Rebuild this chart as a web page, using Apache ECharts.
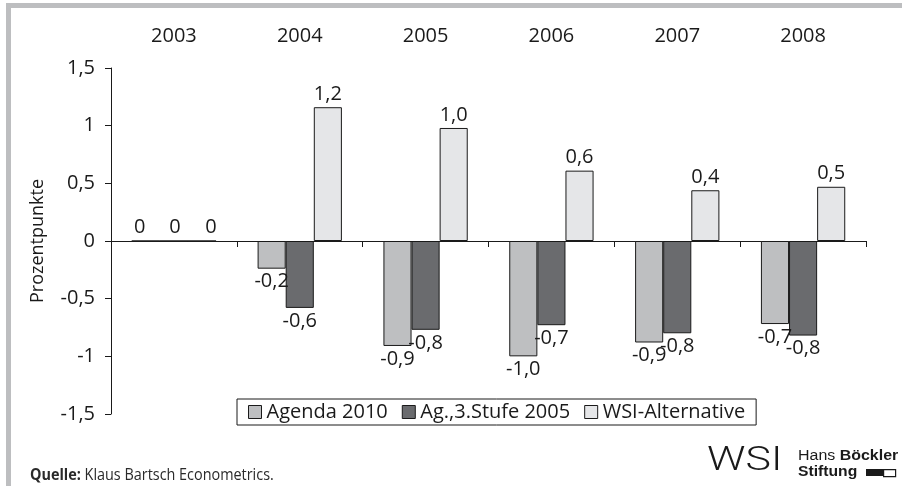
<!DOCTYPE html>
<html>
<head>
<meta charset="utf-8">
<script src="https://cdn.jsdelivr.net/npm/echarts@6/dist/echarts.min.js"></script>
<style>html,body{margin:0;padding:0;background:#fff}#c{width:902px;height:486px}</style>
</head>
<body>
<div id="c"></div>
<script>
var years = ['2003', '2004', '2005', '2006', '2007', '2008'];
var agenda2010 = [0, -0.24, -0.91, -1.0, -0.88, -0.72];
var agStufe2005 = [0, -0.58, -0.77, -0.73, -0.80, -0.82];
var wsiAlternative = [0, 1.16, 0.98, 0.61, 0.44, 0.47];
var yTicks = [-1.5, -1, -0.5, 0, 0.5, 1, 1.5];
var seriesNames = ['Agenda 2010', 'Ag.,3.Stufe 2005', 'WSI-Alternative'];

var FONT = "'Open Sans', sans-serif";
var INK = '#1a1a1a';

function fmtVal(v) {
  return v === 0 ? '0' : v.toFixed(1).replace('.', ',');
}
// zero-value labels are spread a little wider than the bars, as in the source
function items(arr, zeroShift) {
  return arr.map(function (v) {
    var lab = { position: v < 0 ? 'bottom' : 'top' };
    if (v === 0) lab.offset = [zeroShift, 0];
    return { value: v, label: lab };
  });
}
function barSeries(name, arr, color, zeroShift) {
  return {
    name: name,
    type: 'bar',
    xAxisIndex: 0,
    data: items(arr, zeroShift),
    barGap: '0%',
    barCategoryGap: '33%',
    itemStyle: { color: color, borderColor: INK, borderWidth: 1 },
    label: {
      show: true,
      distance: 3,
      fontFamily: FONT,
      fontSize: 20,
      color: INK,
      formatter: function (p) { return fmtVal(p.value); }
    },
    emphasis: { disabled: true },
    animation: false
  };
}

var chart = echarts.init(document.getElementById('c'), null, { renderer: 'canvas' });
chart.setOption({
  backgroundColor: '#ffffff',
  animation: false,
  textStyle: { fontFamily: FONT },
  grid: { left: 111, right: 36, top: 68, bottom: 72, containLabel: false },
  legend: {
    data: seriesNames,
    left: 237,
    top: 399,
    orient: 'horizontal',
    icon: 'rect',
    itemWidth: 13,
    itemHeight: 13,
    itemGap: 14,
    padding: [3, 11],
    borderColor: INK,
    borderWidth: 1,
    itemStyle: { borderColor: INK, borderWidth: 1 },
    textStyle: { fontFamily: FONT, fontSize: 20, color: INK },
    selectedMode: false
  },
  xAxis: [
    {
      type: 'category',
      data: years,
      position: 'bottom',
      axisLine: { show: true, onZero: true, lineStyle: { color: INK, width: 1 } },
      axisTick: { show: true, length: 6, alignWithLabel: false, lineStyle: { color: INK } },
      axisLabel: { show: false },
      splitLine: { show: false }
    },
    {
      type: 'category',
      data: years,
      position: 'top',
      axisLine: { show: false, onZero: false },
      axisTick: { show: false },
      axisLabel: { show: true, margin: 22, fontFamily: FONT, fontSize: 20, color: INK },
      splitLine: { show: false }
    }
  ],
  yAxis: {
    type: 'value',
    min: yTicks[0],
    max: yTicks[yTicks.length - 1],
    interval: 0.5,
    name: 'Prozentpunkte',
    nameLocation: 'middle',
    nameGap: 64,
    nameTextStyle: { fontFamily: FONT, fontSize: 18, color: INK },
    axisLine: { show: true, lineStyle: { color: INK, width: 1 } },
    axisTick: { show: true, length: 6, lineStyle: { color: INK } },
    axisLabel: {
      margin: 16,
      fontFamily: FONT,
      fontSize: 20,
      color: INK,
      formatter: function (v) { return String(v).replace('.', ','); }
    },
    splitLine: { show: false }
  },
  series: [
    barSeries(seriesNames[0], agenda2010, '#bebfc1', -6),
    barSeries(seriesNames[1], agStufe2005, '#6a6b6e', 1),
    barSeries(seriesNames[2], wsiAlternative, '#e5e6e8', 9)
  ],
  graphic: [
    { type: 'rect', left: 6, top: 3, shape: { width: 5, height: 483 }, style: { fill: '#bdbec0' }, silent: true },
    { type: 'rect', left: 6, top: 3, shape: { width: 896, height: 5 }, style: { fill: '#bdbec0' }, silent: true },
    {
      type: 'text', x: 30, y: 475, silent: true, scaleX: 0.9,
      style: {
        text: '{b|Quelle:} Klaus Bartsch Econometrics.',
        verticalAlign: 'middle',
        font: "16px 'Open Sans', sans-serif",
        fill: '#2a2a2a',
        rich: { b: { fontFamily: FONT, fontSize: 16, fontWeight: 'bold', fill: '#2a2a2a' } }
      }
    },
    {
      type: 'text', x: 707, y: 462, silent: true, scaleX: 1.3,
      style: { text: 'WSI', verticalAlign: 'middle', font: "300 33px 'Roboto', sans-serif", fill: '#1a1a1a' }
    },
    {
      type: 'text', x: 798, y: 456, silent: true, scaleX: 1.14,
      style: {
        text: 'Hans {b|Böckler}',
        verticalAlign: 'middle',
        font: "14px 'Liberation Sans', sans-serif",
        fill: '#1a1a1a',
        rich: { b: { fontFamily: "'Liberation Sans', sans-serif", fontSize: 14, fontWeight: 'bold', fill: '#1a1a1a' } }
      }
    },
    {
      type: 'text', x: 798, y: 472, silent: true, scaleX: 1.12,
      style: { text: 'Stiftung', verticalAlign: 'middle', font: "bold 14px 'Liberation Sans', sans-serif", fill: '#1a1a1a' }
    },
    { type: 'rect', left: 866, top: 469, shape: { width: 17, height: 7 }, style: { fill: '#1a1a1a' }, silent: true },
    { type: 'rect', left: 883, top: 469, shape: { width: 12, height: 7 }, style: { fill: '#fff', stroke: '#1a1a1a', lineWidth: 1.2 }, silent: true }
  ]
});
</script>
</body>
</html>
